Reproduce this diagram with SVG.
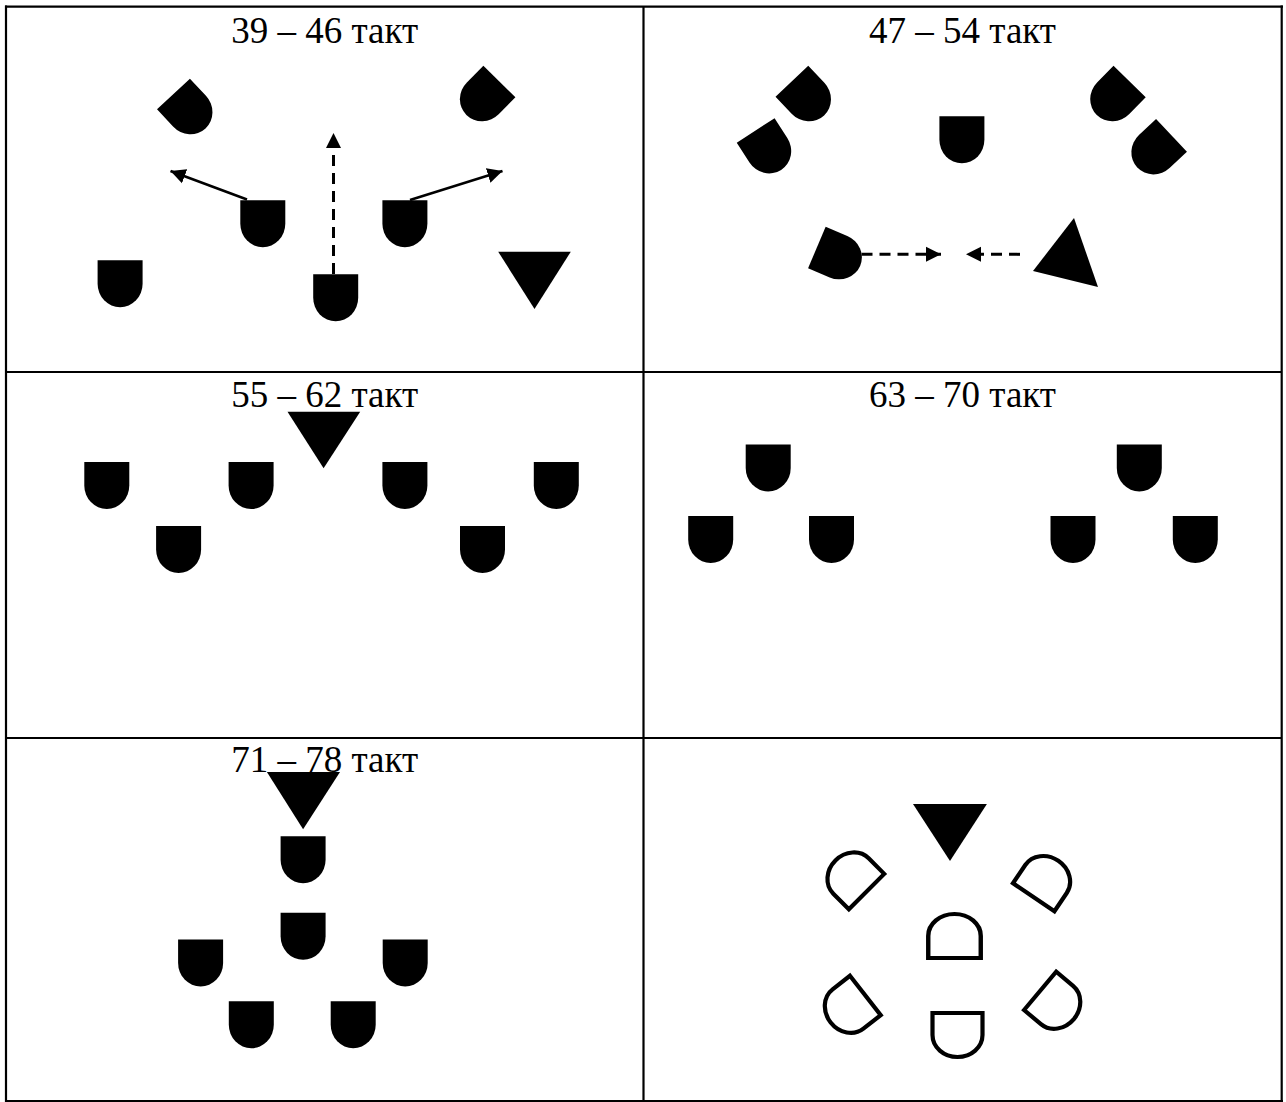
<svg xmlns="http://www.w3.org/2000/svg" width="1286" height="1102" viewBox="0 0 1286 1102">
<style>
  .grid{stroke:#000;stroke-width:2.2;fill:none}
  .lbl{font-family:"Liberation Serif","Times New Roman",serif;font-size:37px;fill:#000;text-anchor:middle}
  .fill{fill:#000}
  .outl{fill:none;stroke:#000;stroke-width:4.2}
  .tri{fill:#000}
  .solid{stroke:#000;stroke-width:2.5;fill:none}
  .dash{stroke:#000;stroke-width:3;fill:none;stroke-dasharray:11 7}
</style>
<defs>
  <path id="sh" d="M-22.5,-23.5 H22.5 V0 A22.5,23.5 0 0 1 -22.5,0 Z"/>
  <path id="so" d="M-25,-22 H25 V0 A25,22 0 0 1 -25,0 Z"/>
  <marker id="ah" markerUnits="userSpaceOnUse" markerWidth="16" markerHeight="16" refX="15" refY="8" orient="auto">
    <path d="M0,0.5 L15,8 L0,15.5 Z" fill="#000"/>
  </marker>
</defs>
<rect width="1286" height="1102" fill="#fff"/>
<g id="table" class="grid">
  <line x1="5" y1="6.7" x2="1283" y2="6.7"/>
  <line x1="6" y1="5.6" x2="6" y2="1102"/>
  <line x1="1281.7" y1="5.6" x2="1281.7" y2="1102"/>
  <line x1="5" y1="1101" x2="1283" y2="1101"/>
  <line x1="643.5" y1="6" x2="643.5" y2="1102"/>
  <line x1="6" y1="372" x2="1282" y2="372"/>
  <line x1="6" y1="738" x2="1282" y2="738"/>
</g>
<g id="labels">
  <text class="lbl" x="324.7" y="43">39 – 46 такт</text>
  <text class="lbl" x="962.5" y="43">47 – 54 такт</text>
  <text class="lbl" x="324.7" y="407">55 – 62 такт</text>
  <text class="lbl" x="962.5" y="407">63 – 70 такт</text>
  <text class="lbl" x="324.7" y="772">71 – 78 такт</text>
</g>
<g id="connectors">
  <line class="solid" x1="247" y1="199.5" x2="170.5" y2="171" marker-end="url(#ah)"/>
  <line class="solid" x1="410" y1="200" x2="502.5" y2="171" marker-end="url(#ah)"/>
  <line class="dash" x1="333.5" y1="274" x2="333.5" y2="133" marker-end="url(#ah)"/>
  <line class="dash" x1="861.5" y1="254.3" x2="941" y2="254.3" stroke-dasharray="10 8" marker-end="url(#ah)"/>
  <line class="dash" x1="1020" y1="254.3" x2="966" y2="254.3" stroke-dasharray="10 8" marker-end="url(#ah)"/>
</g>
<g id="cell1">
  <g id="c1-s1"><use href="#sh" class="fill" transform="translate(189.5,111.2) rotate(-43)"/></g>
  <g id="c1-s2"><use href="#sh" class="fill" transform="translate(482.9,98.2) rotate(44.6)"/></g>
  <g id="c1-s3"><use href="#sh" class="fill" transform="translate(262.8,223.7)"/></g>
  <g id="c1-s4"><use href="#sh" class="fill" transform="translate(404.9,223.7)"/></g>
  <g id="c1-s5"><use href="#sh" class="fill" transform="translate(120.1,283.7)"/></g>
  <g id="c1-s6"><use href="#sh" class="fill" transform="translate(335.7,297.8)"/></g>
  <g id="c1-t"><polygon class="tri" points="498.2,251.7 570.8,251.7 534.5,309"/></g>
</g>
<g id="cell2">
  <g id="c2-s1"><use href="#sh" class="fill" transform="translate(808,98.3) rotate(-43.3)"/></g>
  <g id="c2-s2"><use href="#sh" class="fill" transform="translate(768.4,150.2) rotate(-32.8)"/></g>
  <g id="c2-s3"><use href="#sh" class="fill" transform="translate(961.9,139.8)"/></g>
  <g id="c2-s4"><use href="#sh" class="fill" transform="translate(1113.2,98.3) rotate(44.3)"/></g>
  <g id="c2-s5"><use href="#sh" class="fill" transform="translate(1154.4,151.4) rotate(46.7)"/></g>
  <g id="c2-s6"><use href="#sh" class="fill" transform="translate(838.5,256.7) rotate(-67)"/></g>
  <g id="c2-t"><polygon class="tri" points="1074,218 1033,271 1098,287"/></g>
</g>
<g id="cell3">
  <g id="c3-s1"><use href="#sh" class="fill" transform="translate(106.8,485.5)"/></g>
  <g id="c3-s2"><use href="#sh" class="fill" transform="translate(251.1,485.5)"/></g>
  <g id="c3-s3"><use href="#sh" class="fill" transform="translate(404.9,485.5)"/></g>
  <g id="c3-s4"><use href="#sh" class="fill" transform="translate(556.3,485.5)"/></g>
  <g id="c3-s5"><use href="#sh" class="fill" transform="translate(178.6,549.5)"/></g>
  <g id="c3-s6"><use href="#sh" class="fill" transform="translate(482.5,549.5)"/></g>
  <g id="c3-t"><polygon class="tri" points="287.5,411.7 360.2,411.7 323.6,468.3"/></g>
</g>
<g id="cell4">
  <g id="c4-s1"><use href="#sh" class="fill" transform="translate(768.2,468)"/></g>
  <g id="c4-s2"><use href="#sh" class="fill" transform="translate(1139.3,468)"/></g>
  <g id="c4-s3"><use href="#sh" class="fill" transform="translate(710.7,539.5)"/></g>
  <g id="c4-s4"><use href="#sh" class="fill" transform="translate(831.5,539.5)"/></g>
  <g id="c4-s5"><use href="#sh" class="fill" transform="translate(1073,539.5)"/></g>
  <g id="c4-s6"><use href="#sh" class="fill" transform="translate(1195.3,539.5)"/></g>
</g>
<g id="cell5">
  <g id="c5-t"><polygon class="tri" points="266.9,772 340,772 303.1,829.3"/></g>
  <g id="c5-s1"><use href="#sh" class="fill" transform="translate(303.1,859.7)"/></g>
  <g id="c5-s2"><use href="#sh" class="fill" transform="translate(303.1,936.3)"/></g>
  <g id="c5-s3"><use href="#sh" class="fill" transform="translate(200.6,963)"/></g>
  <g id="c5-s4"><use href="#sh" class="fill" transform="translate(405.2,963)"/></g>
  <g id="c5-s5"><use href="#sh" class="fill" transform="translate(251.3,1024.7)"/></g>
  <g id="c5-s6"><use href="#sh" class="fill" transform="translate(353.2,1024.7)"/></g>
</g>
<g id="cell6">
  <g id="c6-t"><polygon class="tri" points="913,804 986.9,804 950,861"/></g>
  <g id="c6-s1"><use href="#so" class="outl" transform="translate(851,876) rotate(135)"/></g>
  <g id="c6-s2"><use href="#so" class="outl" transform="translate(1046,879) rotate(-146)"/></g>
  <g id="c6-s3"><use href="#so" class="outl" transform="translate(954.5,936) rotate(180) scale(1.05,1)"/></g>
  <g id="c6-s4"><use href="#so" class="outl" transform="translate(848,1009) rotate(52)"/></g>
  <g id="c6-s5"><use href="#so" class="outl" transform="translate(1057,1005) rotate(-50)"/></g>
  <g id="c6-s6"><use href="#so" class="outl" transform="translate(957.5,1035)"/></g>
</g>
</svg>
